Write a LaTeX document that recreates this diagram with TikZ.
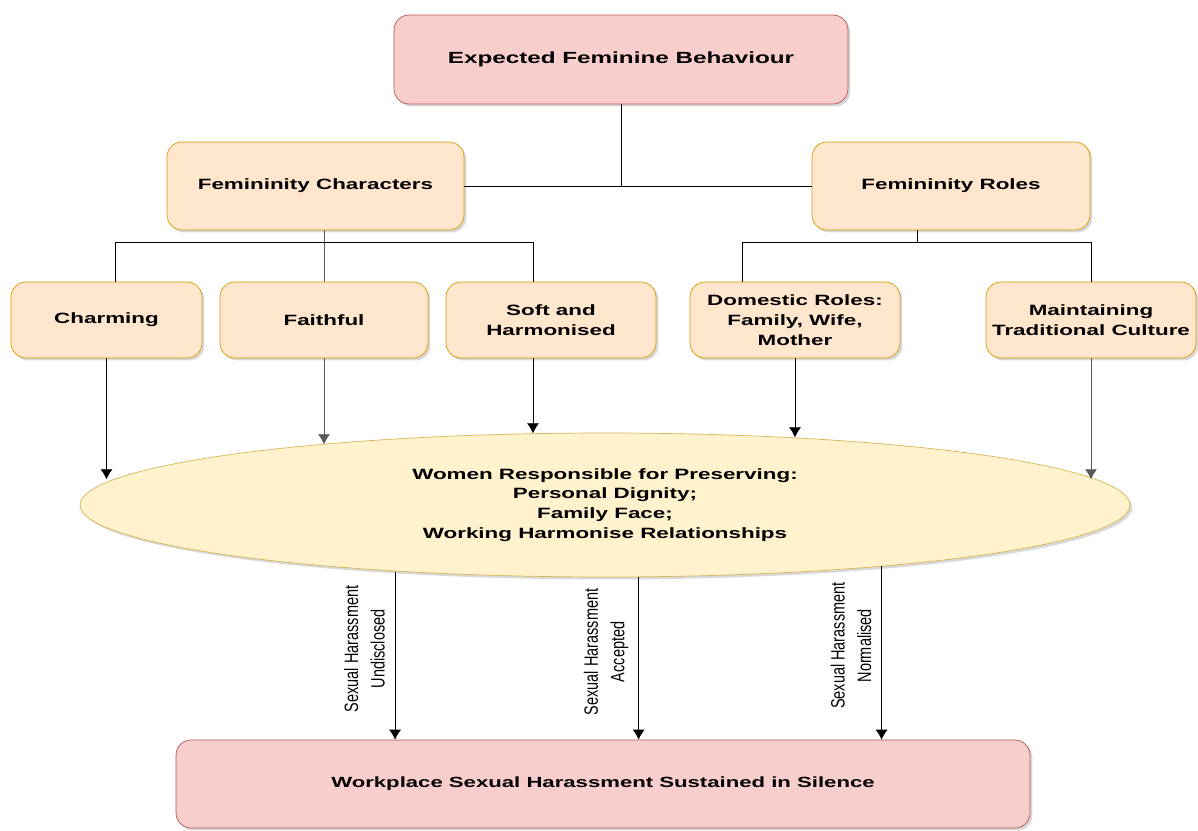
\documentclass[tikz,border=0pt]{standalone}
\usepackage{fontspec}
\setmainfont{Liberation Sans}[FakeStretch=1.5]
\newfontfamily\lblfont{Liberation Sans}[FakeStretch=0.75]
\usetikzlibrary{positioning, arrows.meta, shapes.geometric, shadows}
\definecolor{redfill}{HTML}{F8CECC}
\definecolor{reddraw}{HTML}{B85450}
\definecolor{orfill}{HTML}{FFE6CC}
\definecolor{ordraw}{HTML}{D79B00}
\definecolor{yelfill}{HTML}{FFF2CC}
\definecolor{yeldraw}{HTML}{D6B656}
\tikzset{
  box/.style={
    draw, rounded corners=0.3cm, align=center, inner sep=2pt,
    font=\bfseries\fontsize{8.5}{11.3}\selectfont,
    drop shadow={shadow xshift=0.05cm, shadow yshift=-0.05cm, opacity=0.3}
  },
  pinkbox/.style={box, fill=redfill, draw=reddraw},
  peachbox/.style={box, fill=orfill, draw=ordraw, minimum height=1.52cm},
  lbl/.style={font=\lblfont\fontsize{11}{15}\selectfont, align=center,
    rotate=90, anchor=south, inner sep=0.2cm, pos=0.46},
  -{Latex[length=2mm, width=2.4mm]}, semithick
}

\begin{document}
\begin{tikzpicture}[x=0.02cm, y=-0.02cm]
    \useasboundingbox (0,0) rectangle (1198,831);

    \node[pinkbox, minimum width=9.08cm, minimum height=1.78cm,
          font=\bfseries\fontsize{9.2}{11}\selectfont] (top) at (621,59.5) {Expected Feminine Behaviour};
    \node[peachbox, minimum width=5.94cm, minimum height=1.76cm] (chars) at (315.5,186) {Femininity Characters};
    \node[peachbox, minimum width=5.56cm, minimum height=1.76cm] (roles) at (951,186) {Femininity Roles};

    \node[peachbox, minimum width=3.82cm] (charm) at (106.5,320) {Charming};
    \node[peachbox, minimum width=4.16cm] (faith) at (324,320) {Faithful};
    \node[peachbox, minimum width=4.2cm] (soft) at (551,320) {Soft and\\Harmonised};
    \node[peachbox, minimum width=4.2cm] (dom) at (795,320) {Domestic Roles:\\Family, Wife,\\Mother};
    \node[peachbox, minimum width=4.2cm] (trad) at (1091,320) {Maintaining\\Traditional Culture};

    \node[ellipse, draw=yeldraw, fill=yelfill, minimum width=21cm, minimum height=2.88cm,
          inner sep=0pt, align=center, font=\bfseries\fontsize{8.5}{11.3}\selectfont,
          drop shadow={shadow xshift=0.05cm, shadow yshift=-0.05cm, opacity=0.3}] (resp) at (605,505)
          {Women Responsible for Preserving:\\Personal Dignity;\\Family Face;\\Working Harmonise Relationships};

    \node[pinkbox, minimum width=17.08cm, minimum height=1.76cm,
          font=\bfseries\fontsize{8.4}{11}\selectfont] (silence) at (603,784) {Workplace Sexual Harassment Sustained in Silence};

    % tree
    \draw[-]    (top.south) -- (top.south |- chars.east);
    \draw[-]    (chars) -- (roles);
    \draw[-, black!65]  (chars.south -| faith.north) -- (faith.north);
    \draw[-]    ([xshift=0.17cm]charm.north) -- ++(0,-39) -| ([xshift=-0.36cm]soft.north);
    \draw[-]    ([xshift=-0.68cm]roles.south) -- ++(0,13);
    \draw[-]    ([xshift=-1.06cm]dom.north) -- ++(0,-39) -| (trad.north);

    % into the ellipse
    \draw                (charm.south) -- (charm.south |- resp.177);
    \draw[black!65]      (faith.south) -- (faith.south |- resp.168);
    \draw                ([xshift=-0.36cm]soft.south) -- ([xshift=-0.36cm]soft.south |- resp.135);
    \draw                (dom.south) -- (dom.south |- resp.20);
    \draw[black!65]      (trad.south) -- (trad.south |- resp.3);

    % out of the ellipse
    \draw   ([xshift=-0.1cm]resp.198) -- ([xshift=-0.1cm]resp.198 |- silence.north)
            node[lbl] {Sexual Harassment\\Undisclosed};
    \draw   (resp.295) -- (resp.295 |- silence.north)
            node[lbl] {Sexual Harassment\\Accepted};
    \draw   ([xshift=-0.18cm]resp.348) -- ([xshift=-0.18cm]resp.348 |- silence.north)
            node[lbl] {Sexual Harassment\\Normalised};
\end{tikzpicture}
\end{document}
